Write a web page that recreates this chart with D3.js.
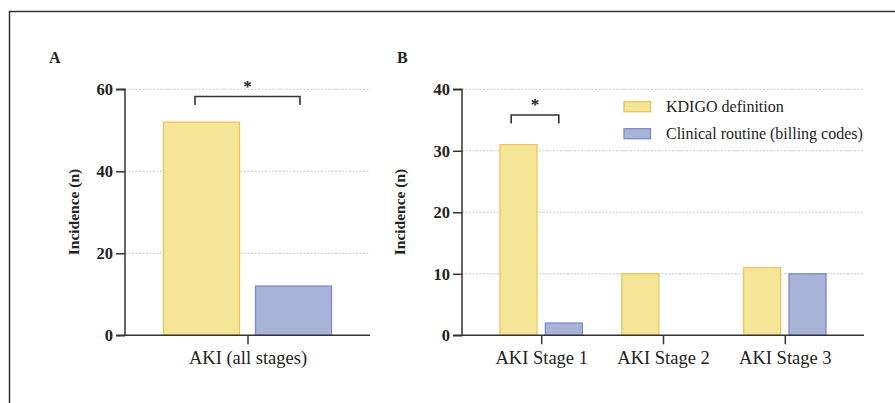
<!DOCTYPE html>
<html><head><meta charset="utf-8">
<script src="https://cdn.jsdelivr.net/npm/d3@7"></script>
<style>body{margin:0;background:#fff}svg{display:block}text{font-family:"Liberation Serif","DejaVu Serif",serif}</style>
</head><body>
<svg id="c" width="895" height="403"></svg>
<script>
const seriesNames = ["KDIGO definition", "Clinical routine (billing codes)"];
const catsA = ["AKI (all stages)"];
const kdigoA = [52];
const clinicalA = [12];
const ticksA = [0, 20, 40, 60];
const catsB = ["AKI Stage 1", "AKI Stage 2", "AKI Stage 3"];
const kdigoB = [31, 10, 11];
const clinicalB = [2, 0, 10];
const ticksB = [0, 10, 20, 30, 40];
const fills = ["#f5e597", "#a7b4d7"];
const strokes = ["#f0c25e", "#7d88cf"];

const svg = d3.select("#c");
svg.append("path").attr("d","M9.5,403 V11.5 H895").attr("fill","none").attr("stroke","#333").attr("stroke-width",1.5);

function panel(o){
  const g = svg.append("g");
  const y = d3.scaleLinear().domain([0,o.max]).range([335.3,89.3]);
  const x = d3.scalePoint().domain(o.cats).range([o.x0,o.x1]).padding(o.pad);
  g.selectAll(".grid").data(o.ticks.filter(t=>t>0)).join("line")
    .attr("x1",o.x0).attr("x2",o.x1).attr("y1",d=>y(d)).attr("y2",d=>y(d))
    .attr("stroke","#bbb").attr("stroke-width",0.8).attr("stroke-dasharray","2,1.5");
  const series = [o.a, o.b];
  series.forEach((vals,si)=>{
    g.selectAll(".b"+si).data(vals.map((v,i)=>({v,c:o.cats[i]})).filter(d=>d.v>0)).join("rect")
      .attr("x",d=> si===0 ? x(d.c)-o.gap-o.bw : x(d.c)+o.gap)
      .attr("width",o.bw)
      .attr("y",d=>y(d.v)).attr("height",d=>y(0)-y(d.v))
      .attr("fill",fills[si]).attr("stroke",strokes[si]).attr("stroke-width",1.3);
  });
  const ya = g.append("g").attr("transform",`translate(${o.x0},0)`)
    .call(d3.axisLeft(y).tickValues(o.ticks).tickSize(9).tickPadding(3));
  ya.select(".domain").attr("stroke","#333").attr("stroke-width",1.5).attr("d",`M-9,${y(0)}H0V${y(o.max)}H-9`);
  ya.selectAll(".tick line").attr("stroke","#333").attr("stroke-width",1.5);
  ya.selectAll(".tick text").attr("font-size",16.5).attr("font-weight","bold").attr("fill","#222")
    .style("font-family","'Liberation Serif',serif");
  const xa = g.append("g").attr("transform",`translate(0,${y(0)})`)
    .call(d3.axisBottom(x).tickSize(9).tickPadding(7));
  xa.select(".domain").attr("stroke","#333").attr("stroke-width",1.5).attr("d",`M${o.x0},0H${o.x1}`);
  xa.selectAll(".tick line").attr("stroke","#333").attr("stroke-width",1.5);
  xa.selectAll(".tick text").attr("font-size",18.5).attr("fill","#222")
    .style("font-family","'Liberation Serif',serif");
  g.append("text").attr("transform",`translate(${o.lx},212) rotate(-90)`).attr("text-anchor","middle")
    .attr("dominant-baseline","central").attr("font-size",15.5).attr("font-weight","bold").attr("fill","#222").text("Incidence (n)");
  g.append("text").attr("x",o.px).attr("y",63).attr("font-size",16).attr("font-weight","bold").attr("fill","#222").text(o.letter);
  const c = x(o.cats[0]);
  const bx1 = c + o.bl, bx2 = c + o.br;
  g.append("path").attr("d",`M${bx1},${o.by+8.5}V${o.by}H${bx2}V${o.by+8.5}`).attr("fill","none").attr("stroke","#333").attr("stroke-width",1.6);
  g.append("text").attr("x",(bx1+bx2)/2).attr("y",o.by-5).attr("text-anchor","middle").attr("font-size",17).attr("font-weight","bold").attr("fill","#222").text("*");
  return {x,y};
}

panel({cats:catsA,a:kdigoA,b:clinicalA,ticks:ticksA,max:60,x0:125,x1:370,pad:0.5,bw:76,gap:8,lx:73,px:49,letter:"A",by:96.5,bl:-52.5,br:52.5});
panel({cats:catsB,a:kdigoB,b:clinicalB,ticks:ticksB,max:40,x0:462,x1:864,pad:0.65,bw:37,gap:4.2,lx:399,px:397,letter:"B",by:115,bl:-30,br:17.6});

const lg = svg.append("g");
const ly = [106.7, 133.7];
seriesNames.forEach((n,i)=>{
  lg.append("rect").attr("x",624).attr("y",ly[i]-5).attr("width",26.5).attr("height",10)
    .attr("fill",fills[i]).attr("stroke",strokes[i]).attr("stroke-width",1.3);
  lg.append("text").attr("x",666).attr("y",ly[i]).attr("dominant-baseline","central").attr("font-size",16).attr("fill","#222").text(n);
});
</script>
</body></html>
